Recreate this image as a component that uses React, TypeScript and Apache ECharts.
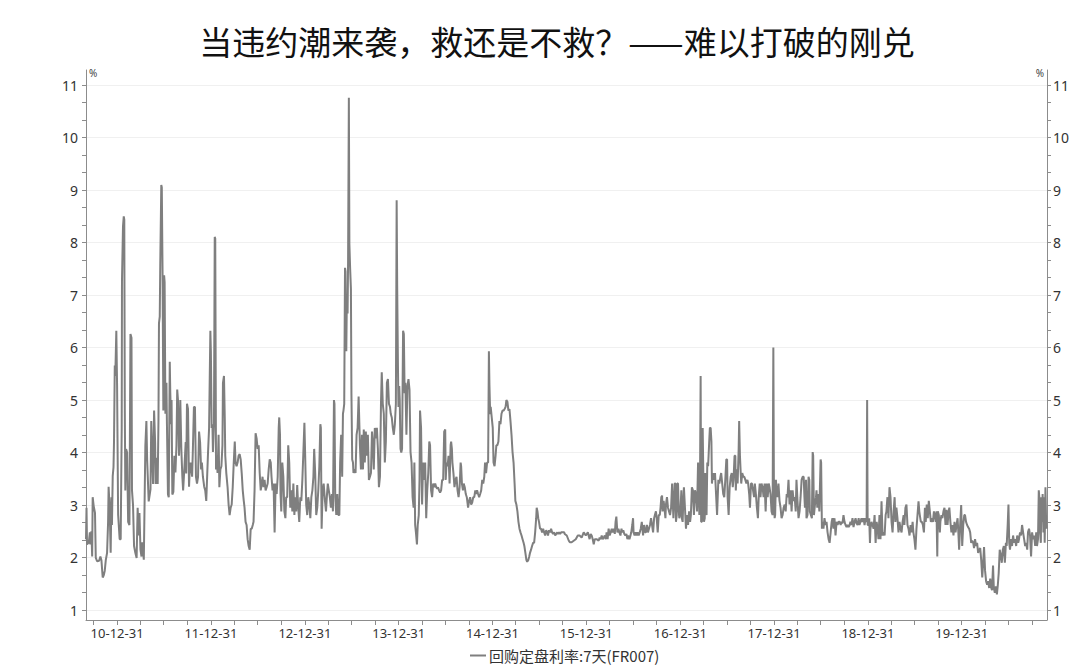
import React, { useEffect, useRef } from "react";
import * as echarts from "echarts";

const TITLE = "当违约潮来袭，救还是不救？——难以打破的刚兑";
const SERIES_NAME = "回购定盘利率:7天(FR007)";
const UNIT = "%";

const Y_TICK_LABELS = [1, 2, 3, 4, 5, 6, 7, 8, 9, 10, 11];
const X_LABEL_DATES = [
  "2010-12-31", "2011-12-31", "2012-12-31", "2013-12-31", "2014-12-31",
  "2015-12-31", "2016-12-31", "2017-12-31", "2018-12-31", "2019-12-31",
];
const X_RANGE = ["2010-09-01", "2020-11-27"];

// FR007 fixing (%), sampled as [day of year, value]
const fr007_2010 = [
  [244, 2.35], [246, 2.95], [248, 2.25], [255, 2.29], [259, 2.48], [261, 2.25], [265, 2.5], [268, 2.02],
  [270, 3.15], [274, 2.98], [279, 2.85], [282, 2.0], [287, 1.93], [295, 1.94], [300, 2.02], [304, 1.95],
  [309, 1.62], [313, 1.66], [317, 1.75], [321, 1.95], [326, 2.09], [330, 2.68], [332, 3.35], [336, 2.95],
  [340, 2.09], [343, 3.15], [345, 2.62], [348, 3.55], [351, 3.72], [353, 4.2], [356, 5.66], [358, 5.46],
  [362, 6.32], [365, 5.27],
];
const fr007_2011 = [
  [4, 2.82], [10, 2.35], [14, 2.35], [18, 4.47], [19, 7.28], [23, 8.31], [26, 8.5], [28, 8.44], [30, 4.8],
  [32, 3.28], [35, 4.07], [39, 4.0], [43, 2.68], [48, 2.62], [52, 6.26], [56, 6.19], [58, 3.28], [62, 3.0],
  [66, 2.22], [71, 2.09], [76, 1.99], [80, 2.95], [84, 2.42], [87, 2.85], [91, 2.15], [95, 2.02], [98, 2.29],
  [104, 1.96], [110, 4.13], [114, 4.6], [117, 3.86], [123, 3.07], [130, 3.3], [133, 4.6], [140, 3.4],
  [144, 4.8], [148, 4.2], [150, 3.4], [154, 3.9], [158, 3.4], [161, 4.6], [163, 6.46], [166, 6.59],
  [168, 7.58], [172, 9.1], [174, 9.05], [177, 7.38], [180, 4.8], [183, 7.38], [185, 7.25], [188, 4.74],
  [192, 5.33], [194, 4.54], [198, 3.2], [201, 3.15], [205, 5.73], [207, 5.15], [210, 4.54], [212, 5.0],
  [215, 3.2], [219, 3.25], [223, 3.94], [227, 3.62], [231, 4.14], [234, 5.2], [237, 5.0], [241, 3.94],
  [244, 4.47], [246, 5.0], [250, 4.07], [254, 3.54], [257, 3.28], [260, 3.54], [263, 3.81], [267, 4.2],
  [269, 3.6], [272, 4.93], [276, 4.83], [280, 3.35], [282, 3.6], [286, 3.81], [292, 3.54], [295, 4.07],
  [299, 4.87], [303, 4.87], [307, 3.54], [311, 3.41], [315, 3.54], [319, 4.4], [323, 4.2], [327, 3.68],
  [330, 3.81], [334, 3.54], [339, 3.35], [343, 3.28], [347, 3.08], [350, 3.48], [354, 4.01], [358, 4.47],
  [363, 6.32], [365, 5.93],
];
const fr007_2012 = [
  [3, 4.47], [6, 4.54], [8, 4.01], [12, 4.54], [15, 8.11], [17, 8.08], [20, 3.68], [22, 3.94], [26, 3.61],
  [30, 4.34], [33, 3.34], [37, 3.68], [41, 3.74], [45, 4.14], [47, 5.33], [51, 5.46], [54, 4.67], [56, 3.94],
  [60, 3.61], [65, 3.34], [69, 3.01], [73, 2.81], [77, 2.95], [81, 3.01], [85, 3.34], [89, 3.81], [93, 4.21],
  [96, 3.81], [100, 3.74], [104, 3.81], [108, 3.94], [112, 3.97], [116, 3.87], [120, 3.61], [124, 3.28],
  [128, 3.08], [131, 2.95], [135, 2.68], [139, 2.62], [143, 2.35], [147, 2.22], [151, 2.15], [155, 2.55],
  [159, 2.55], [163, 2.62], [166, 2.68], [170, 3.28], [174, 4.37], [178, 4.27], [182, 4.07], [186, 4.14],
  [190, 3.61], [194, 3.28], [198, 3.41], [201, 3.54], [205, 3.34], [209, 3.48], [213, 3.28], [217, 3.34],
  [221, 3.41], [225, 3.68], [229, 3.87], [233, 3.81], [236, 3.54], [240, 3.28], [244, 3.41], [248, 2.48],
  [252, 3.41], [256, 3.21], [260, 3.54], [264, 4.47], [266, 4.67], [269, 4.34], [271, 3.21], [274, 2.88],
  [278, 3.81], [282, 3.54], [286, 2.88], [290, 2.75], [293, 3.15], [297, 3.15], [301, 4.14], [305, 3.81],
  [309, 2.95], [313, 3.28], [317, 2.88], [321, 3.41], [325, 2.81], [328, 3.15], [332, 2.88], [336, 3.38],
  [340, 2.95], [344, 2.68], [348, 3.15], [352, 3.08], [356, 3.48], [360, 4.01], [364, 4.57],
];
const fr007_2013 = [
  [1, 3.94], [5, 3.01], [9, 2.81], [13, 3.15], [17, 3.01], [21, 2.75], [25, 3.15], [29, 3.28], [33, 3.54],
  [36, 4.07], [40, 3.61], [44, 2.81], [48, 2.95], [52, 3.28], [56, 3.74], [60, 4.54], [62, 4.47], [65, 2.55],
  [69, 3.28], [73, 3.41], [78, 3.08], [82, 2.88], [86, 3.21], [89, 3.41], [93, 3.28], [97, 3.15], [101, 2.95],
  [105, 3.21], [109, 2.88], [113, 5.0], [115, 4.93], [118, 3.15], [122, 2.81], [126, 3.21], [130, 2.81],
  [134, 2.81], [137, 3.81], [141, 4.34], [145, 3.54], [148, 4.74], [150, 4.8], [153, 4.93], [156, 7.52],
  [158, 7.45], [161, 5.93], [163, 6.85], [166, 6.65], [168, 7.65], [171, 10.76], [173, 7.98], [176, 7.5],
  [179, 7.12], [181, 5.13], [184, 3.87], [187, 3.81], [189, 3.61], [193, 3.68], [197, 3.61], [201, 4.34],
  [205, 4.47], [209, 5.07], [211, 5.07], [214, 4.14], [218, 3.68], [222, 4.34], [226, 3.68], [229, 4.44],
  [233, 3.81], [237, 4.4], [241, 3.94], [245, 4.34], [249, 3.48], [253, 3.54], [257, 3.61], [261, 4.4],
  [264, 4.21], [268, 3.68], [272, 4.47], [276, 4.27], [280, 4.47], [284, 4.07], [288, 3.34], [292, 3.54],
  [296, 4.93], [299, 5.53], [303, 4.93], [307, 4.74], [311, 3.81], [315, 4.21], [319, 5.33], [323, 5.4],
  [327, 4.93], [331, 4.87], [334, 4.74], [338, 4.67], [342, 4.47], [346, 4.34], [350, 4.54], [354, 4.93],
  [357, 8.81], [359, 7.2], [362, 5.66], [364, 4.87],
];
const fr007_2014 = [
  [2, 5.27], [4, 5.0], [7, 4.07], [10, 4.0], [13, 4.07], [17, 6.32], [20, 6.26], [23, 5.13], [26, 5.33],
  [30, 4.34], [34, 5.27], [38, 5.4], [42, 5.2], [46, 4.01], [50, 3.81], [54, 3.15], [58, 2.95], [61, 3.81],
  [64, 2.62], [67, 2.48], [71, 2.25], [74, 2.62], [78, 2.81], [81, 3.48], [83, 4.8], [87, 4.47], [91, 3.01],
  [95, 3.81], [99, 3.48], [103, 3.81], [107, 2.75], [111, 3.28], [115, 3.61], [119, 4.21], [122, 4.14],
  [126, 3.28], [130, 3.15], [134, 3.41], [138, 3.34], [142, 3.41], [146, 3.34], [150, 3.31], [153, 3.34],
  [157, 3.28], [161, 3.24], [165, 3.28], [169, 3.48], [173, 3.48], [177, 4.4], [181, 4.44], [183, 3.48],
  [186, 3.81], [190, 3.74], [194, 3.94], [198, 3.41], [202, 4.14], [204, 4.21], [207, 4.07], [209, 3.81],
  [213, 3.61], [217, 3.34], [221, 3.48], [225, 3.54], [229, 3.28], [233, 3.15], [237, 3.34], [241, 3.81],
  [243, 3.74], [246, 3.41], [250, 3.28], [253, 3.41], [257, 3.34], [261, 3.21], [265, 3.15], [270, 2.95],
  [274, 3.08], [278, 3.15], [282, 3.01], [286, 3.05], [290, 3.15], [294, 3.15], [298, 3.28], [301, 3.21],
  [305, 3.28], [309, 3.21], [313, 3.15], [317, 3.21], [321, 3.28], [325, 3.48], [329, 3.41], [333, 3.54],
  [336, 3.81], [340, 3.61], [344, 3.81], [348, 3.81], [351, 5.93], [353, 5.3], [356, 4.73], [358, 4.87],
  [362, 4.67],
];
const fr007_2015 = [
  [1, 4.47], [4, 3.81], [8, 3.74], [12, 3.94], [15, 4.14], [19, 4.14], [23, 4.21], [27, 4.6], [31, 4.54],
  [35, 4.74], [39, 4.8], [43, 4.8], [47, 4.83], [51, 4.87], [54, 5.0], [58, 4.97], [62, 4.8], [66, 4.83],
  [70, 4.6], [74, 4.34], [78, 4.01], [82, 3.81], [86, 3.41], [89, 3.08], [93, 3.01], [97, 2.88], [101, 2.68],
  [105, 2.55], [109, 2.48], [113, 2.42], [117, 2.35], [121, 2.28], [124, 2.22], [128, 2.09], [132, 1.95],
  [135, 1.92], [139, 1.95], [143, 2.02], [146, 2.09], [150, 2.15], [154, 2.22], [158, 2.28], [162, 2.28],
  [166, 2.48], [170, 2.75], [172, 2.95], [175, 2.88], [178, 2.75], [181, 2.68], [185, 2.55], [189, 2.55],
  [193, 2.48], [197, 2.55], [201, 2.48], [205, 2.42], [209, 2.52], [213, 2.48], [216, 2.42], [220, 2.52],
  [224, 2.48], [228, 2.55], [232, 2.48], [236, 2.45], [240, 2.48], [244, 2.42], [248, 2.45], [252, 2.48],
  [255, 2.45], [259, 2.48], [263, 2.45], [267, 2.48], [271, 2.48], [275, 2.48], [279, 2.48], [281, 2.45],
  [289, 2.42], [297, 2.32], [301, 2.29], [308, 2.29], [316, 2.32], [324, 2.35], [332, 2.42], [339, 2.42],
  [347, 2.38], [355, 2.48], [363, 2.42],
];
const fr007_2016 = [
  [2, 2.45], [6, 2.48], [9, 2.42], [13, 2.35], [17, 2.45], [21, 2.42], [25, 2.35], [29, 2.25], [33, 2.35],
  [41, 2.35], [48, 2.32], [52, 2.38], [56, 2.35], [60, 2.42], [64, 2.35], [68, 2.38], [72, 2.42], [76, 2.35],
  [79, 2.48], [83, 2.35], [87, 2.55], [91, 2.42], [95, 2.48], [99, 2.55], [103, 2.48], [107, 2.55],
  [111, 2.45], [114, 2.68], [117, 2.78], [121, 2.48], [125, 2.55], [129, 2.48], [133, 2.42], [137, 2.55],
  [140, 2.48], [144, 2.52], [148, 2.45], [152, 2.42], [156, 2.45], [160, 2.35], [164, 2.42], [168, 2.35],
  [172, 2.42], [175, 2.48], [179, 2.62], [182, 2.75], [184, 2.48], [188, 2.42], [192, 2.48], [196, 2.42],
  [200, 2.48], [204, 2.42], [208, 2.48], [212, 2.55], [216, 2.68], [218, 2.68], [221, 2.42], [225, 2.62],
  [229, 2.48], [232, 2.48], [236, 2.62], [240, 2.48], [244, 2.55], [248, 2.62], [252, 2.75], [256, 2.62],
  [260, 2.48], [264, 2.75], [267, 2.81], [271, 2.88], [274, 2.75], [278, 2.48], [282, 2.81], [286, 2.81],
  [289, 2.95], [292, 3.15], [295, 3.18], [297, 2.88], [301, 3.08], [304, 2.95], [308, 2.75], [310, 3.01],
  [314, 3.15], [318, 2.95], [322, 2.88], [326, 2.81], [330, 2.95], [334, 3.41], [336, 3.41], [339, 2.75],
  [341, 2.95], [344, 3.41], [347, 3.41], [349, 2.68], [352, 2.81], [354, 3.41], [357, 3.41], [360, 2.88],
  [362, 2.75], [365, 2.81],
];
const fr007_2017 = [
  [1, 2.95], [4, 3.28], [6, 2.75], [9, 2.68], [12, 3.15], [14, 3.34], [18, 2.95], [22, 2.55], [26, 2.81],
  [30, 2.62], [34, 2.88], [38, 2.68], [41, 2.81], [45, 3.34], [49, 3.28], [53, 2.81], [57, 3.28], [61, 3.21],
  [65, 2.88], [69, 3.81], [71, 3.81], [74, 2.81], [76, 2.95], [79, 5.46], [81, 2.68], [84, 2.68], [87, 4.47],
  [89, 4.47], [92, 2.68], [95, 2.75], [97, 3.61], [100, 2.88], [102, 2.81], [105, 3.81], [108, 3.74],
  [110, 3.94], [113, 4.27], [115, 4.47], [118, 4.47], [121, 4.21], [123, 3.41], [127, 3.61], [131, 3.48],
  [135, 3.61], [139, 3.21], [143, 2.81], [145, 2.81], [148, 3.48], [152, 3.41], [156, 3.54], [159, 3.61],
  [163, 3.41], [167, 3.21], [171, 3.15], [175, 3.48], [179, 3.87], [182, 3.87], [184, 3.15], [188, 2.81],
  [192, 3.34], [196, 3.54], [200, 3.61], [204, 3.34], [207, 3.48], [211, 3.94], [214, 3.94], [216, 3.28],
  [219, 3.68], [223, 3.41], [227, 4.07], [229, 4.6], [232, 3.94], [235, 3.61], [237, 3.41], [241, 3.61],
  [245, 3.54], [249, 3.54], [253, 3.48], [257, 3.41], [261, 3.48], [264, 3.41], [268, 3.21], [271, 2.95],
  [275, 3.41], [279, 3.41], [283, 3.28], [287, 3.15], [290, 3.41], [294, 3.21], [298, 2.95], [302, 2.75],
  [305, 3.15], [309, 3.41], [312, 3.15], [316, 3.41], [320, 3.34], [324, 3.15], [328, 3.41], [332, 2.88],
  [336, 3.41], [340, 3.15], [344, 3.41], [347, 3.34], [351, 3.21], [355, 2.88], [359, 2.81], [362, 6.0],
  [364, 3.5],
];
const fr007_2018 = [
  [2, 2.75], [4, 2.81], [7, 3.48], [9, 3.28], [13, 3.15], [17, 3.41], [21, 3.08], [25, 2.95], [29, 2.75],
  [33, 2.81], [37, 2.95], [41, 3.01], [45, 2.88], [49, 3.21], [52, 3.15], [56, 3.48], [60, 3.01], [64, 3.28],
  [68, 2.88], [72, 3.28], [76, 3.08], [80, 3.15], [84, 2.88], [87, 3.48], [91, 3.08], [95, 2.75], [99, 2.88],
  [103, 3.15], [107, 3.48], [111, 3.54], [115, 3.54], [118, 3.15], [120, 2.95], [124, 3.48], [126, 2.75],
  [130, 2.81], [134, 3.54], [137, 3.48], [139, 2.88], [143, 2.81], [147, 2.75], [150, 4.01], [152, 3.94],
  [155, 2.81], [159, 3.01], [163, 3.15], [165, 3.28], [168, 2.95], [172, 3.21], [176, 2.88], [178, 3.28],
  [181, 3.87], [183, 3.81], [186, 2.55], [189, 2.68], [192, 2.55], [196, 2.75], [200, 2.62], [204, 2.68],
  [208, 2.48], [212, 2.35], [216, 2.28], [220, 2.48], [224, 2.68], [227, 2.75], [231, 2.55], [235, 2.75],
  [239, 2.42], [243, 2.68], [247, 2.62], [251, 2.68], [255, 2.68], [259, 2.62], [262, 2.68], [266, 2.65],
  [270, 2.81], [274, 2.68], [278, 2.62], [282, 2.58], [286, 2.62], [290, 2.58], [294, 2.62], [297, 2.68],
  [301, 2.62], [305, 2.75], [309, 2.58], [313, 2.68], [317, 2.75], [321, 2.65], [325, 2.62], [329, 2.75],
  [332, 2.62], [336, 2.68], [340, 2.75], [344, 2.68], [348, 2.75], [352, 2.62], [356, 2.75], [360, 2.68],
  [362, 5.0], [364, 2.62],
];
const fr007_2019 = [
  [2, 2.62], [5, 2.75], [8, 2.28], [10, 2.55], [14, 2.68], [18, 2.62], [22, 2.55], [26, 2.81], [30, 2.28],
  [34, 2.68], [38, 2.55], [41, 2.35], [45, 2.81], [49, 2.35], [53, 3.07], [57, 2.42], [61, 2.48], [65, 2.42],
  [69, 2.81], [72, 2.88], [76, 3.15], [80, 2.75], [84, 3.34], [88, 3.15], [92, 2.68], [96, 2.48], [100, 2.88],
  [104, 3.15], [107, 2.68], [111, 2.95], [115, 2.75], [119, 2.48], [123, 2.68], [127, 2.55], [131, 2.48],
  [135, 2.68], [139, 2.81], [142, 2.62], [146, 2.95], [150, 3.01], [154, 2.62], [158, 2.55], [162, 2.42],
  [166, 2.62], [170, 2.48], [174, 2.68], [177, 2.48], [181, 2.35], [185, 2.15], [189, 2.55], [193, 2.81],
  [197, 3.07], [200, 2.88], [202, 2.81], [206, 2.68], [210, 2.68], [214, 2.62], [218, 2.48], [222, 2.95],
  [225, 2.68], [229, 3.01], [233, 2.75], [237, 3.08], [241, 2.88], [245, 2.68], [249, 2.75], [253, 2.68],
  [257, 2.88], [260, 2.81], [264, 2.68], [267, 2.88], [270, 2.02], [272, 2.88], [276, 2.81], [280, 2.48],
  [282, 2.68], [286, 2.81], [290, 2.75], [294, 2.88], [298, 2.95], [302, 2.62], [306, 2.91], [310, 2.62],
  [314, 2.88], [317, 2.95], [321, 2.68], [325, 2.48], [329, 2.62], [333, 2.42], [337, 2.68], [341, 2.48],
  [345, 2.62], [349, 2.75], [352, 2.48], [355, 2.15], [359, 2.62], [363, 3.0],
];
const fr007_2020 = [
  [2, 2.22], [6, 2.62], [10, 2.81], [13, 2.81], [17, 2.68], [21, 2.62], [25, 2.58], [29, 2.55], [33, 2.48],
  [37, 2.28], [41, 2.32], [45, 2.28], [48, 2.18], [52, 2.35], [56, 2.22], [60, 2.28], [64, 2.09], [68, 2.15],
  [72, 2.18], [76, 1.95], [80, 1.62], [83, 1.85], [87, 2.2], [91, 1.75], [95, 1.55], [99, 1.48], [103, 1.55],
  [107, 1.42], [111, 1.6], [115, 1.42], [118, 1.38], [122, 1.85], [125, 1.42], [129, 1.33], [133, 1.45],
  [137, 1.3], [141, 1.5], [144, 1.7], [148, 2.15], [152, 2.05], [156, 1.9], [160, 2.15], [164, 2.22],
  [168, 1.9], [172, 2.28], [175, 2.22], [179, 2.62], [182, 3.01], [185, 2.28], [188, 2.15], [192, 2.35],
  [196, 2.22], [200, 2.42], [204, 2.28], [208, 2.35], [212, 2.22], [216, 2.42], [220, 2.28], [223, 2.35],
  [227, 2.48], [231, 2.42], [235, 2.62], [239, 2.48], [243, 2.35], [247, 2.22], [251, 2.28], [255, 2.15],
  [258, 2.48], [262, 2.55], [266, 2.42], [270, 2.02], [274, 2.48], [278, 2.35], [282, 2.42], [286, 2.22],
  [290, 2.48], [293, 2.22], [297, 2.35], [300, 3.28], [302, 3.15], [305, 2.48], [308, 2.28], [310, 3.15],
  [313, 2.68], [315, 3.21], [318, 2.48], [321, 3.15], [323, 2.28], [326, 3.34], [328, 2.81], [331, 2.55],
];

const YEARS: [number, number[][]][] = [
  [2010, fr007_2010], [2011, fr007_2011], [2012, fr007_2012], [2013, fr007_2013], [2014, fr007_2014],
  [2015, fr007_2015], [2016, fr007_2016], [2017, fr007_2017], [2018, fr007_2018], [2019, fr007_2019],
  [2020, fr007_2020],
];

const parseDate = (s: string) => {
  const [y, m, d] = s.split("-").map(Number);
  return new Date(y, m - 1, d).getTime();
};
const pad = (n: number) => (n < 10 ? "0" + n : "" + n);

const CJK = '"Noto Sans CJK SC", "Noto Sans", sans-serif';
const LATIN = '"Noto Sans", "Open Sans", sans-serif';
const AXIS_COLOR = "#8c8c8c";
const LABEL_COLOR = "#333333";
const LINE_COLOR = "#7f7f7f";

export default function App() {
  const ref = useRef<HTMLDivElement>(null);

  useEffect(() => {
    if (!ref.current) return;
    const chart = echarts.init(ref.current, undefined, { renderer: "svg" });

    const data: [number, number][] = [];
    YEARS.forEach(([year, arr]) => {
      arr.forEach(([doy, v]) => data.push([new Date(year, 0, doy).getTime(), v]));
    });

    const xMin = parseDate(X_RANGE[0]);
    const xMax = parseDate(X_RANGE[1]);
    const xLabels = X_LABEL_DATES.map(parseDate);
    const xTicks: number[] = [];
    for (let y = 2010; y <= 2020; y++) {
      [[2, 31], [5, 30], [8, 30], [11, 31]].forEach(([m, d]) => {
        const t = new Date(y, m, d).getTime();
        if (t >= xMin && t <= xMax) xTicks.push(t);
      });
    }
    const yMinor: number[] = [];
    for (let k = 0; k <= 30; k++) yMinor.push(1 + k / 3);

    const yMin = 0.81;
    const yMax = 11.29;

    const yAxisBase = (position: "left" | "right") => ({
      type: "value",
      position,
      min: yMin,
      max: yMax,
      name: UNIT,
      nameLocation: "end",
      nameGap: -3,
      nameTextStyle: {
        fontSize: 10,
        color: "#444444",
        fontFamily: LATIN,
        align: position === "left" ? "left" : "right",
        verticalAlign: "middle",
        padding: position === "left" ? [0, 0, 0, 3] : [0, 3, 0, 0],
      },
      axisLine: { show: true, lineStyle: { color: AXIS_COLOR, width: 1 } },
      axisTick: {
        show: true,
        inside: false,
        length: 4,
        customValues: yMinor,
        lineStyle: { color: AXIS_COLOR },
      },
      axisLabel: {
        customValues: Y_TICK_LABELS,
        fontSize: 14,
        color: LABEL_COLOR,
        fontFamily: LATIN,
        margin: position === "left" ? 8 : 6,
      },
      splitLine: { show: false },
    });

    chart.setOption({
      animation: false,
      backgroundColor: "#ffffff",
      title: {
        text: TITLE,
        left: 552,
        top: 19,
        textAlign: "center",
        textStyle: { fontSize: 33, fontWeight: "normal", color: "#111111", fontFamily: CJK },
      },
      legend: {
        data: [SERIES_NAME],
        left: 465,
        top: 643,
        icon: "rect",
        itemWidth: 16,
        itemHeight: 2,
        itemGap: 10,
        textStyle: { fontSize: 15, color: LABEL_COLOR, fontFamily: CJK, padding: [0, 0, 0, -2] },
      },
      grid: { left: 86, right: 33, top: 70, bottom: 50, containLabel: false },
      xAxis: {
        type: "value",
        min: xMin,
        max: xMax,
        axisLine: { show: true, lineStyle: { color: AXIS_COLOR, width: 1 } },
        axisTick: { show: true, length: 5, customValues: xTicks, lineStyle: { color: AXIS_COLOR } },
        axisLabel: {
          customValues: xLabels,
          fontSize: 13,
          color: LABEL_COLOR,
          fontFamily: LATIN,
          margin: 6,
          formatter: (val: number) => {
            const d = new Date(val);
            return `${String(d.getFullYear()).slice(2)}-${pad(d.getMonth() + 1)}-${pad(d.getDate())}`;
          },
        },
        splitLine: { show: false },
      },
      yAxis: [
        yAxisBase("left"),
        yAxisBase("right"),
        {
          type: "value",
          position: "left",
          min: yMin,
          max: yMax,
          axisLine: { show: false },
          axisLabel: { show: false },
          axisTick: { show: false, customValues: Y_TICK_LABELS },
          splitLine: { show: true, lineStyle: { color: "#f0f0f0", width: 1 } },
        },
      ],
      series: [
        {
          name: SERIES_NAME,
          type: "line",
          yAxisIndex: 0,
          data,
          symbol: "none",
          showSymbol: false,
          lineStyle: { color: LINE_COLOR, width: 2 },
          itemStyle: { color: LINE_COLOR },
        },
      ],
    });

    return () => chart.dispose();
  }, []);

  return (
    <div
      ref={ref}
      style={{ position: "fixed", left: 0, top: 0, width: 1080, height: 670, background: "#fff" }}
    />
  );
}
